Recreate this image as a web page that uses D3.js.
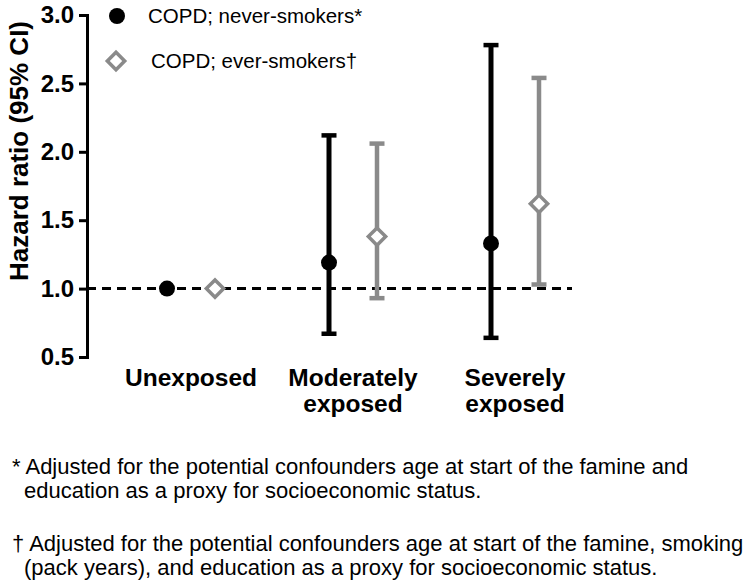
<html>
<head>
<title>COPD hazard ratio</title>
<style>
body { margin: 0; background: white; }
svg text { font-family: Arial, 'Liberation Sans', Helvetica, sans-serif; }
.axis path, .axis line { stroke: black; stroke-width: 3; }
.axis text { font-size: 24px; font-weight: bold; fill: black; }
.ylabel { font-size: 26px; font-weight: bold; }
.cat { font-size: 24.5px; font-weight: bold; }
.legend text { font-size: 20.5px; }
.note { font-size: 22px; }
</style>
</head>
<body>
<svg id='plot' width='749' height='584'></svg>

<script src='https://cdn.jsdelivr.net/npm/d3@7/dist/d3.min.js'></script>
<script>
// values
const categories = ['Unexposed', 'Moderately exposed', 'Severely exposed'];
const catLines = [['Unexposed'], ['Moderately', 'exposed'], ['Severely', 'exposed']];
const yTicks = [0.5, 1.0, 1.5, 2.0, 2.5, 3.0];

const neverHR = [1.0, 1.19, 1.33];
const neverLo = [null, 0.67, 0.64];
const neverHi = [null, 2.12, 2.78];

const everHR = [1.0, 1.38, 1.62];
const everLo = [null, 0.93, 1.03];
const everHi = [null, 2.06, 2.54];

const legendLabels = ['COPD; never-smokers*', 'COPD; ever-smokers\u2020'];
const notes = [
  ['* Adjusted for the potential confounders age at start of the famine and',
   'education as a proxy for socioeconomic status.'],
  ['\u2020 Adjusted for the potential confounders age at start of the famine, smoking',
   '(pack years), and education as a proxy for socioeconomic status.']
];

const black = '#000';
const grey = '#8a8a8a';

const svg = d3.select('#plot');
const axisX = 87;

const y = d3.scaleLinear().domain([0.5, 3.0]).range([357, 15]);
const x = d3.scalePoint().domain(categories).range([110, 596]).padding(0.5);
const offset = 24;

// y axis
svg.append('g')
  .attr('class', 'axis')
  .attr('transform', `translate(${axisX},0)`)
  .call(d3.axisLeft(y).tickValues(yTicks).tickFormat(d3.format('.1f')).tickSize(8).tickPadding(5));

svg.append('text')
  .attr('class', 'ylabel')
  .attr('transform', 'translate(28,151) rotate(-90)')
  .attr('text-anchor', 'middle')
  .text('Hazard ratio (95% CI)');

// reference line at 1
svg.append('line')
  .attr('x1', axisX).attr('x2', 572)
  .attr('y1', y(1)).attr('y2', y(1))
  .attr('stroke', black)
  .attr('stroke-width', 3)
  .attr('stroke-dasharray', '9,6');

function drawSeries(hr, lo, hi, dx, color, width, marker) {
  const g = svg.append('g');
  categories.forEach((c, i) => {
    const cx = x(c) + dx;
    if (lo[i] != null) {
      g.append('line')
        .attr('x1', cx).attr('x2', cx)
        .attr('y1', y(lo[i])).attr('y2', y(hi[i]))
        .attr('stroke', color).attr('stroke-width', width);
      [lo[i], hi[i]].forEach(v => {
        g.append('line')
          .attr('x1', cx - 7.5).attr('x2', cx + 7.5)
          .attr('y1', y(v)).attr('y2', y(v))
          .attr('stroke', color).attr('stroke-width', 4.5);
      });
    }
    marker(g, cx, y(hr[i]));
  });
}

function dot(g, cx, cy) {
  g.append('circle').attr('cx', cx).attr('cy', cy).attr('r', 8).attr('fill', black);
}

function diamond(g, cx, cy) {
  g.append('path')
    .attr('d', d3.symbol(d3.symbolSquare, 150)())
    .attr('transform', `translate(${cx},${cy}) rotate(45)`)
    .attr('fill', 'white')
    .attr('stroke', grey)
    .attr('stroke-width', 3.5);
}

drawSeries(neverHR, neverLo, neverHi, -offset, black, 5, dot);
drawSeries(everHR, everLo, everHi, offset, grey, 4.5, diamond);

// category labels
catLines.forEach((lines, i) => {
  const t = svg.append('text')
    .attr('class', 'cat')
    .attr('text-anchor', 'middle')
    .attr('x', x(categories[i]))
    .attr('y', 386);
  lines.forEach((l, j) => {
    t.append('tspan').attr('x', x(categories[i])).attr('dy', j ? 26 : 0).text(l);
  });
});

// legend
const legend = svg.append('g').attr('class', 'legend');
dot(legend, 117, 16);
legend.append('text').attr('x', 148).attr('y', 23).text(legendLabels[0]);
diamond(legend, 116, 61);
legend.append('text').attr('x', 151).attr('y', 68).text(legendLabels[1]);

// footnotes
const noteTop = [474, 551];
notes.forEach((lines, i) => {
  lines.forEach((l, j) => {
    svg.append('text')
      .attr('class', 'note')
      .attr('x', j ? 24 : 12)
      .attr('y', noteTop[i] + j * 24)
      .text(l);
  });
});
</script>
</body>
</html>
